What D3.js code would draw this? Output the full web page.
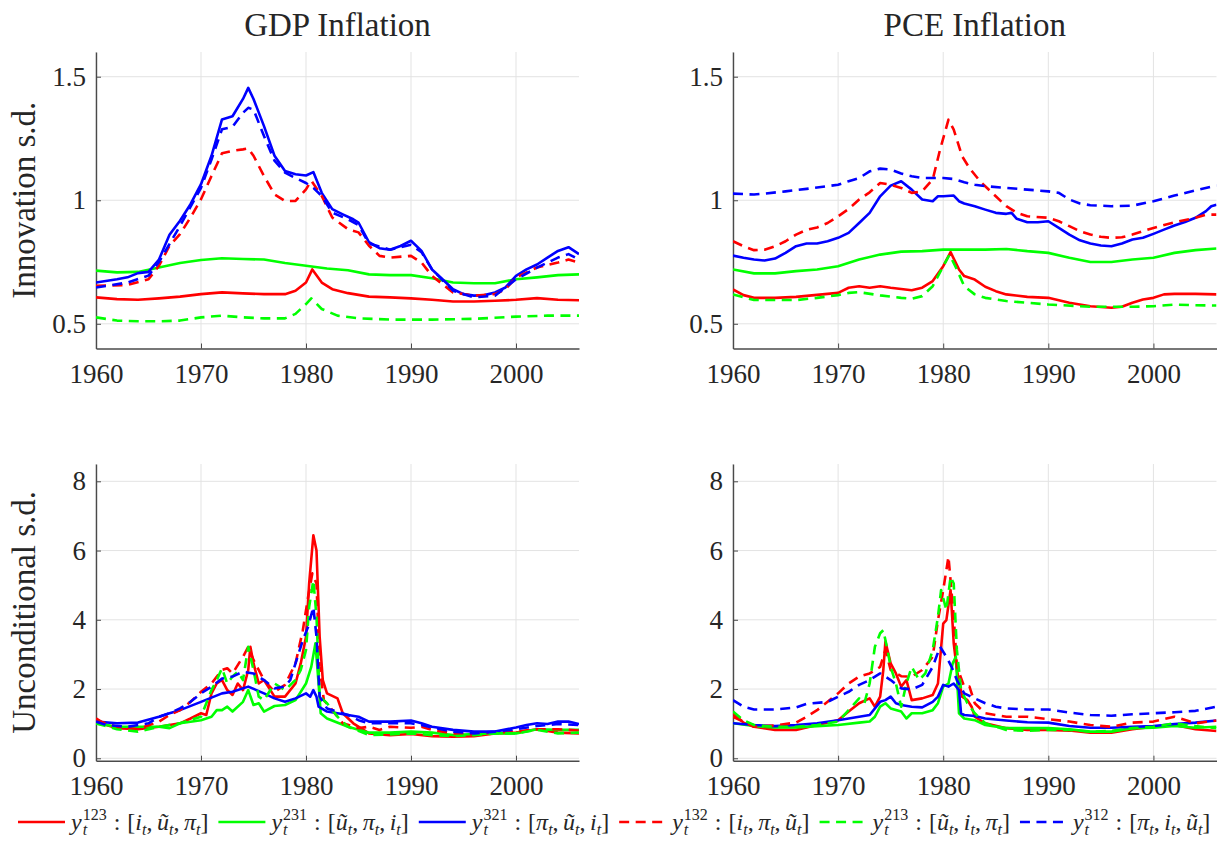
<!DOCTYPE html>
<html>
<head>
<meta charset="utf-8">
<script src="https://cdn.jsdelivr.net/npm/d3@7"></script>
<style>
  body { margin: 0; background: #fff; }
  text { font-family: "Liberation Serif", "DejaVu Serif", serif; fill: #262626; }
</style>
</head>
<body>
<svg id="chart" width="1221" height="843"></svg>
<script>
// ---- data ----
var xTicks = [1960, 1970, 1980, 1990, 2000];
var innovTicks = [0.5, 1, 1.5];
var uncondTicks = [0, 2, 4, 6, 8];
var colTitles = ["GDP Inflation", "PCE Inflation"];
var rowLabels = ["Innovation s.d.", "Unconditional s.d."];
var seriesKeys = ["123", "231", "321", "132", "213", "312"];
var legendVars = [["i", "ũ", "π"], ["ũ", "π", "i"], ["π", "ũ", "i"], ["i", "π", "ũ"], ["ũ", "i", "π"], ["π", "i", "ũ"]];

// GDP, innovation s.d.
var gdpInnov123 = [[1960,0.607],[1962,0.60],[1964,0.597],[1966,0.603],[1968,0.61],[1970,0.62],[1972,0.627],[1974,0.623],[1976,0.62],[1978,0.62],[1979,0.634],[1980,0.667],[1980.6,0.72],[1981.5,0.667],[1982.5,0.64],[1984,0.624],[1986,0.61],[1988,0.607],[1990,0.603],[1992,0.597],[1994,0.59],[1996,0.59],[1998,0.593],[2000,0.597],[2002,0.604],[2004,0.597],[2006,0.595]];
var gdpInnov231 = [[1960,0.715],[1962,0.708],[1964,0.71],[1966,0.728],[1968,0.746],[1970,0.758],[1972,0.765],[1974,0.762],[1976,0.76],[1978,0.746],[1980,0.735],[1982,0.724],[1984,0.717],[1986,0.70],[1988,0.697],[1990,0.697],[1992,0.684],[1994,0.667],[1996,0.664],[1998,0.664],[2000,0.68],[2002,0.688],[2004,0.697],[2006,0.70]];
var gdpInnov321 = [[1960,0.667],[1962,0.68],[1963,0.688],[1964,0.705],[1965,0.71],[1966,0.76],[1967,0.86],[1968,0.917],[1969,0.984],[1970,1.065],[1971,1.18],[1972,1.327],[1973,1.34],[1974,1.41],[1974.5,1.455],[1975,1.41],[1976,1.30],[1977,1.18],[1978,1.118],[1979,1.105],[1980,1.10],[1980.7,1.114],[1981.5,1.03],[1982.5,0.964],[1983.5,0.943],[1984.5,0.923],[1985,0.91],[1986,0.83],[1987,0.806],[1988,0.80],[1989,0.815],[1990,0.836],[1991,0.795],[1992,0.72],[1993,0.68],[1994,0.64],[1995,0.62],[1996,0.614],[1997,0.616],[1998,0.627],[1999,0.647],[2000,0.694],[2001,0.72],[2002,0.74],[2003,0.768],[2004,0.795],[2005,0.81],[2006,0.782]];
var gdpInnov132 = [[1960,0.654],[1963,0.657],[1965,0.68],[1966,0.735],[1967,0.816],[1968,0.863],[1969,0.93],[1970,1.004],[1971,1.098],[1972,1.19],[1973,1.20],[1974,1.206],[1974.5,1.21],[1975,1.18],[1976,1.098],[1977,1.024],[1978,0.997],[1979,0.997],[1980,1.044],[1980.5,1.08],[1981.5,1.017],[1982.5,0.93],[1984,0.883],[1985,0.87],[1986,0.816],[1987,0.775],[1988,0.768],[1990,0.775],[1991,0.748],[1992,0.694],[1994,0.627],[1996,0.614],[1998,0.62],[1999,0.64],[2000,0.687],[2002,0.728],[2004,0.748],[2005,0.76],[2006,0.748]];
var gdpInnov213 = [[1960,0.526],[1962,0.513],[1964,0.51],[1966,0.51],[1968,0.513],[1970,0.526],[1972,0.533],[1974,0.526],[1976,0.522],[1978,0.522],[1979,0.54],[1980,0.58],[1980.5,0.603],[1981.5,0.56],[1983,0.533],[1985,0.522],[1988,0.517],[1992,0.517],[1996,0.52],[2000,0.529],[2003,0.533],[2006,0.533]];
var gdpInnov312 = [[1960,0.647],[1963,0.667],[1965,0.695],[1966,0.75],[1968,0.896],[1970,1.05],[1971,1.165],[1972,1.287],[1973,1.297],[1974,1.354],[1974.5,1.374],[1975,1.367],[1976,1.26],[1977,1.16],[1978,1.112],[1979,1.09],[1980,1.07],[1980.7,1.05],[1981.5,1.017],[1982.5,0.95],[1984,0.923],[1985,0.90],[1986,0.825],[1988,0.80],[1990,0.82],[1991,0.79],[1992,0.72],[1994,0.634],[1996,0.607],[1998,0.614],[2000,0.68],[2002,0.727],[2004,0.768],[2005,0.782],[2006,0.76]];

// PCE, innovation s.d.
var pceInnov123 = [[1960,0.639],[1961,0.616],[1962,0.605],[1964,0.605],[1966,0.609],[1968,0.617],[1970,0.625],[1971,0.646],[1972,0.652],[1973,0.646],[1974,0.652],[1975,0.646],[1976,0.641],[1977,0.636],[1978,0.646],[1979,0.673],[1980,0.733],[1980.7,0.79],[1981.5,0.72],[1982,0.693],[1983,0.679],[1984,0.65],[1985,0.632],[1986,0.619],[1988,0.609],[1990,0.605],[1992,0.585],[1994,0.571],[1996,0.565],[1997,0.569],[1998,0.585],[1999,0.598],[2000,0.605],[2001,0.619],[2002,0.621],[2004,0.621],[2006,0.619]];
var pceInnov231 = [[1960,0.72],[1962,0.704],[1964,0.704],[1966,0.713],[1968,0.72],[1970,0.733],[1972,0.76],[1974,0.78],[1976,0.792],[1978,0.794],[1980,0.80],[1982,0.80],[1984,0.80],[1986,0.803],[1988,0.794],[1990,0.787],[1992,0.767],[1994,0.75],[1996,0.75],[1998,0.76],[2000,0.767],[2002,0.787],[2004,0.798],[2006,0.805]];
var pceInnov321 = [[1960,0.776],[1961,0.767],[1962,0.76],[1963,0.756],[1964,0.764],[1965,0.787],[1966,0.814],[1967,0.825],[1968,0.825],[1969,0.834],[1970,0.848],[1971,0.868],[1972,0.908],[1973,0.949],[1974,1.016],[1975,1.059],[1976,1.077],[1977,1.043],[1978,1.003],[1979,0.996],[1979.5,1.016],[1980,1.016],[1981,1.019],[1981.5,0.996],[1982,0.987],[1983,0.976],[1984,0.962],[1985,0.949],[1986,0.945],[1986.5,0.949],[1987,0.925],[1988,0.911],[1989,0.911],[1990,0.915],[1991,0.888],[1992,0.861],[1993,0.838],[1994,0.825],[1995,0.817],[1996,0.814],[1997,0.825],[1998,0.841],[1999,0.848],[2000,0.864],[2001,0.881],[2002,0.898],[2003,0.912],[2004,0.929],[2005,0.956],[2005.5,0.976],[2006,0.982]];
var pceInnov132 = [[1960,0.834],[1961,0.814],[1962,0.798],[1963,0.80],[1964,0.814],[1965,0.834],[1966,0.861],[1967,0.88],[1968,0.89],[1969,0.908],[1970,0.935],[1971,0.965],[1972,1.003],[1973,1.032],[1974,1.07],[1975,1.063],[1976,1.05],[1977,1.03],[1978,1.036],[1979,1.084],[1979.7,1.205],[1980.5,1.326],[1981,1.286],[1981.8,1.178],[1982.5,1.13],[1983.5,1.077],[1985,1.016],[1986,0.976],[1987,0.949],[1988,0.935],[1990,0.929],[1991,0.915],[1992,0.895],[1993,0.875],[1994,0.861],[1995,0.852],[1996,0.848],[1997,0.85],[1998,0.861],[1999,0.875],[2000,0.888],[2002,0.911],[2004,0.929],[2005,0.942],[2006,0.942]];
var pceInnov213 = [[1960,0.619],[1962,0.596],[1964,0.596],[1966,0.596],[1968,0.605],[1970,0.616],[1971,0.625],[1972,0.628],[1974,0.615],[1976,0.605],[1977,0.601],[1978,0.612],[1979,0.652],[1980,0.733],[1980.6,0.78],[1981.3,0.72],[1982,0.652],[1983,0.619],[1984,0.605],[1986,0.592],[1988,0.585],[1990,0.578],[1994,0.569],[1998,0.569],[2000,0.571],[2002,0.578],[2004,0.575],[2006,0.574]];
var pceInnov312 = [[1960,1.027],[1962,1.023],[1963,1.027],[1965,1.036],[1967,1.046],[1969,1.057],[1970,1.063],[1971,1.077],[1972,1.09],[1973,1.117],[1974,1.128],[1975,1.124],[1976,1.108],[1977,1.097],[1978,1.09],[1980,1.09],[1981,1.086],[1982,1.073],[1983,1.063],[1984,1.057],[1986,1.05],[1988,1.043],[1990,1.036],[1991,1.03],[1992,1.003],[1993,0.987],[1994,0.98],[1996,0.976],[1998,0.978],[2000,0.996],[2001,1.007],[2002,1.019],[2004,1.04],[2006,1.06]];

// GDP, unconditional s.d.
var gdpUncond123 = [[1960,1.15],[1961,0.96],[1962,0.87],[1964,0.84],[1966,0.91],[1968,1.01],[1969,1.15],[1970,1.3],[1970.5,1.25],[1971,1.875],[1971.5,2.16],[1972,2.26],[1972.5,1.97],[1973,1.83],[1973.5,2.16],[1974,1.97],[1974.5,2.55],[1974.7,3.22],[1975,2.74],[1975.5,2.16],[1976,2.26],[1977,1.78],[1978,1.78],[1979,2.16],[1979.5,2.74],[1980,3.51],[1980.3,5.05],[1980.7,6.44],[1981,6.0],[1981.3,3.51],[1981.6,2.26],[1982,1.875],[1983,1.73],[1983.5,1.3],[1984.5,1.01],[1986,0.72],[1988,0.67],[1990,0.70],[1992,0.64],[1994,0.625],[1996,0.64],[1998,0.72],[2000,0.74],[2002,0.84],[2004,0.74],[2006,0.72]];
var gdpUncond231 = [[1960,1.01],[1962,0.91],[1964,0.91],[1966,0.91],[1967,0.87],[1968,1.01],[1970,1.1],[1971,1.2],[1971.5,1.39],[1972,1.39],[1972.5,1.49],[1973,1.35],[1974,1.63],[1974.5,1.97],[1975,1.54],[1975.5,1.59],[1976,1.35],[1977,1.51],[1978,1.54],[1979,1.68],[1980,2.16],[1980.5,2.64],[1980.9,3.32],[1981.2,2.16],[1981.4,1.3],[1982,1.15],[1984,0.91],[1986,0.74],[1988,0.74],[1990,0.77],[1992,0.74],[1994,0.67],[1996,0.70],[1998,0.72],[2000,0.72],[2002,0.84],[2004,0.82],[2006,0.82]];
var gdpUncond321 = [[1960,1.06],[1962,1.01],[1964,1.03],[1966,1.2],[1967,1.3],[1968,1.39],[1970,1.63],[1972,1.875],[1973,1.92],[1974.5,2.07],[1976,1.875],[1977,1.73],[1978,1.63],[1979,1.73],[1980,1.875],[1980.4,1.78],[1980.7,1.97],[1981,1.78],[1981.2,1.49],[1982,1.35],[1984,1.25],[1985,1.2],[1986,1.06],[1988,1.06],[1990,1.09],[1991,1.01],[1992,0.91],[1994,0.82],[1996,0.77],[1998,0.77],[2000,0.89],[2001,0.96],[2002,1.01],[2003,0.99],[2004,1.06],[2005,1.06],[2006,0.99]];
var gdpUncond132 = [[1960,1.1],[1962,0.91],[1964,0.84],[1966,1.06],[1967,1.25],[1968,1.39],[1969,1.63],[1970,1.92],[1971,2.16],[1972,2.55],[1972.5,2.6],[1973,2.45],[1974,2.93],[1974.5,3.22],[1975,2.84],[1976,2.26],[1977,1.92],[1978,2.12],[1979,2.74],[1979.7,3.7],[1980.2,4.66],[1980.6,5.34],[1981,5.05],[1981.3,2.64],[1981.7,1.68],[1982.5,1.39],[1983.5,1.01],[1985,0.87],[1986,0.91],[1987,0.82],[1988,0.91],[1990,0.88],[1991,0.91],[1992,0.82],[1994,0.72],[1996,0.70],[1998,0.74],[2000,0.77],[2002,0.84],[2004,0.84],[2006,0.80]];
var gdpUncond213 = [[1960,1.01],[1962,0.84],[1964,0.77],[1966,0.91],[1968,1.01],[1970,1.2],[1971,1.97],[1971.5,2.26],[1972,2.6],[1972.5,2.16],[1973,2.36],[1973.5,2.5],[1974,2.26],[1974.5,3.22],[1975,2.55],[1975.5,1.78],[1976,1.68],[1977,2.16],[1978,1.97],[1979,2.26],[1979.5,2.55],[1980,3.13],[1980.3,4.37],[1980.7,5.14],[1981,4.09],[1981.3,1.78],[1982,1.59],[1983,1.2],[1984,0.91],[1986,0.67],[1988,0.69],[1990,0.72],[1992,0.67],[1994,0.64],[1996,0.67],[1998,0.72],[2000,0.72],[2002,0.82],[2004,0.72],[2006,0.74]];
var gdpUncond312 = [[1960,1.06],[1961,0.96],[1963,0.91],[1965,1.01],[1966,1.2],[1967,1.3],[1968,1.44],[1969,1.63],[1970,1.875],[1971,2.07],[1972,2.3],[1973,2.36],[1974,2.5],[1975,2.45],[1976,2.26],[1977,2.02],[1978,2.07],[1978.5,2.26],[1979,2.74],[1979.7,3.41],[1980.2,3.8],[1980.7,4.37],[1981,3.51],[1981.3,1.78],[1982,1.44],[1984,1.25],[1985,1.1],[1986,1.01],[1988,1.01],[1990,1.01],[1991,0.96],[1992,0.89],[1994,0.77],[1996,0.72],[1998,0.77],[2000,0.84],[2002,0.93],[2004,0.99],[2006,0.96]];

// PCE, unconditional s.d.
var pceUncond123 = [[1960,1.3],[1961,1.03],[1962,0.91],[1964,0.82],[1966,0.82],[1968,0.96],[1970,1.1],[1971,1.35],[1972,1.59],[1973,1.73],[1973.5,1.49],[1974,1.78],[1974.3,2.55],[1974.5,3.37],[1975,2.74],[1975.5,2.45],[1976,2.07],[1976.5,2.26],[1977,1.68],[1978,1.73],[1979,1.83],[1979.5,2.16],[1980,3.89],[1980.3,3.99],[1980.7,4.86],[1981,3.32],[1981.3,2.55],[1981.8,1.78],[1982.3,1.68],[1982.7,1.49],[1983,1.2],[1984,1.01],[1986,0.87],[1988,0.82],[1990,0.82],[1992,0.80],[1994,0.74],[1996,0.74],[1998,0.84],[2000,0.91],[2002,0.96],[2004,0.84],[2006,0.79]];
var pceUncond231 = [[1960,1.01],[1962,0.93],[1964,0.89],[1966,0.89],[1968,0.93],[1970,0.96],[1972,1.03],[1973,1.06],[1973.5,1.2],[1974,1.49],[1974.5,1.59],[1975,1.44],[1976,1.35],[1976.5,1.15],[1977,1.3],[1978,1.3],[1979,1.39],[1979.5,1.59],[1980,2.07],[1980.5,2.16],[1980.9,2.74],[1981.2,2.93],[1981.5,1.3],[1982,1.15],[1983,1.1],[1984,0.96],[1986,0.87],[1988,0.87],[1990,0.87],[1992,0.84],[1994,0.77],[1996,0.77],[1998,0.87],[2000,0.88],[2002,0.93],[2004,0.88],[2006,0.91]];
var pceUncond321 = [[1960,1.01],[1962,0.96],[1964,0.93],[1966,0.96],[1968,1.01],[1970,1.1],[1972,1.2],[1973,1.25],[1974,1.63],[1974.5,1.68],[1975,1.78],[1975.5,1.59],[1976,1.54],[1977,1.49],[1978,1.47],[1979,1.63],[1979.5,1.78],[1980,2.12],[1980.5,2.07],[1981,2.16],[1981.5,1.97],[1981.7,1.3],[1982,1.25],[1983,1.22],[1984,1.15],[1986,1.09],[1988,1.04],[1990,1.03],[1992,0.93],[1994,0.88],[1996,0.88],[1998,0.91],[2000,0.93],[2002,0.99],[2004,1.03],[2006,1.09]];
var pceUncond132 = [[1960,1.2],[1962,0.91],[1964,0.95],[1966,1.03],[1967,1.2],[1968,1.39],[1969,1.63],[1970,1.875],[1971,2.16],[1972,2.36],[1973,2.45],[1974,2.64],[1974.5,3.13],[1975,2.55],[1976,2.37],[1977,2.36],[1978,2.55],[1979,2.93],[1979.5,3.99],[1980,4.86],[1980.5,5.82],[1981,4.09],[1981.3,2.64],[1982,2.07],[1982.5,2.07],[1983,1.59],[1984,1.3],[1986,1.2],[1988,1.2],[1990,1.13],[1992,1.06],[1994,0.96],[1996,0.91],[1998,1.03],[2000,1.06],[2002,1.2],[2004,1.01],[2006,1.09]];
var pceUncond213 = [[1960,1.35],[1961,1.1],[1962,0.96],[1964,0.91],[1966,0.91],[1968,0.96],[1970,1.06],[1971,1.39],[1972,1.73],[1972.5,1.59],[1973,2.16],[1973.5,3.22],[1974,3.61],[1974.3,3.7],[1974.7,3.13],[1975,2.64],[1975.5,2.16],[1976,1.49],[1976.5,2.16],[1977,2.64],[1977.7,2.26],[1978.3,2.45],[1979,3.13],[1979.5,4.09],[1979.8,4.86],[1980.3,4.28],[1980.7,5.24],[1981,5.05],[1981.3,3.13],[1981.7,1.97],[1982.3,1.59],[1983,1.3],[1984,1.01],[1986,0.82],[1988,0.79],[1990,0.82],[1992,0.82],[1994,0.77],[1996,0.79],[1998,0.87],[2000,0.91],[2002,1.01],[2004,0.93],[2006,0.87]];
var pceUncond312 = [[1960,1.68],[1961,1.49],[1962,1.41],[1964,1.41],[1966,1.47],[1967,1.57],[1969,1.63],[1970,1.78],[1971,1.92],[1972,2.12],[1973,2.26],[1974,2.45],[1975,2.26],[1976,2.02],[1977,1.99],[1978,2.12],[1979,2.64],[1979.7,3.22],[1980.3,2.93],[1980.8,2.64],[1981.3,2.26],[1982,1.875],[1983,1.73],[1984,1.59],[1985,1.49],[1986,1.44],[1988,1.41],[1990,1.41],[1992,1.32],[1994,1.25],[1996,1.23],[1998,1.27],[2000,1.3],[2002,1.33],[2004,1.37],[2006,1.49]];

var panels = [
  { row: 0, col: 0, domain: [0.4, 1.6], ticks: innovTicks, series: [gdpInnov123, gdpInnov231, gdpInnov321, gdpInnov132, gdpInnov213, gdpInnov312] },
  { row: 0, col: 1, domain: [0.4, 1.6], ticks: innovTicks, series: [pceInnov123, pceInnov231, pceInnov321, pceInnov132, pceInnov213, pceInnov312] },
  { row: 1, col: 0, domain: [-0.07, 8.5], ticks: uncondTicks, series: [gdpUncond123, gdpUncond231, gdpUncond321, gdpUncond132, gdpUncond213, gdpUncond312] },
  { row: 1, col: 1, domain: [-0.07, 8.5], ticks: uncondTicks, series: [pceUncond123, pceUncond231, pceUncond321, pceUncond132, pceUncond213, pceUncond312] }
];

// ---- layout ----
var colX = [[96, 579], [733, 1216.5]];
var rowY = [[52, 348.5], [464, 760.7]];
var color = d3.scaleOrdinal().domain(seriesKeys).range(["#ff0000", "#00ff00", "#0000ff", "#ff0000", "#00ff00", "#0000ff"]);
var dashed = function(k) { return seriesKeys.indexOf(k) >= 3; };

var svg = d3.select("#chart");
var fmt = function(d) { return String(d); };

panels.forEach(function(p, pi) {
  var x = d3.scaleLinear().domain([1960, 2006]).range(colX[p.col]);
  var y = d3.scaleLinear().domain(p.domain).range([rowY[p.row][1], rowY[p.row][0]]);
  var g = svg.append("g");

  // grid
  g.selectAll(".vg").data(xTicks).enter().append("line")
    .attr("x1", function(d){ return x(d); }).attr("x2", function(d){ return x(d); })
    .attr("y1", y.range()[0]).attr("y2", y.range()[1])
    .attr("stroke", "#e3e3e3").attr("stroke-width", 1);
  g.selectAll(".hg").data(p.ticks).enter().append("line")
    .attr("x1", x.range()[0]).attr("x2", x.range()[1])
    .attr("y1", function(d){ return y(d); }).attr("y2", function(d){ return y(d); })
    .attr("stroke", "#e3e3e3").attr("stroke-width", 1);

  // axes (MATLAB-like, ticks inside)
  var xa = d3.axisBottom(x).tickValues(xTicks).tickFormat(fmt).tickSizeInner(-5).tickSizeOuter(0).tickPadding(14);
  var ya = d3.axisLeft(y).tickValues(p.ticks).tickFormat(fmt).tickSizeInner(-5).tickSizeOuter(0).tickPadding(10);
  var gx = g.append("g").attr("transform", "translate(0," + y.range()[0] + ")").call(xa);
  var gy = g.append("g").attr("transform", "translate(" + x.range()[0] + ",0)").call(ya);
  [gx, gy].forEach(function(a) {
    a.attr("font-family", null);
    a.select(".domain").attr("stroke", "#4a4a4a").attr("stroke-width", 1.4);
    a.selectAll(".tick line").attr("stroke", "#4a4a4a").attr("stroke-width", 1);
    a.selectAll(".tick text").style("font-family", "'Liberation Serif', serif").style("font-size", "27px").attr("fill", "#262626");
  });
  gx.selectAll(".tick text").attr("dy", "0.75em");

  // clip
  var cid = "clip" + pi;
  svg.append("clipPath").attr("id", cid).append("rect")
    .attr("x", x.range()[0]).attr("y", y.range()[1])
    .attr("width", x.range()[1] - x.range()[0]).attr("height", y.range()[0] - y.range()[1]);

  var line = d3.line().x(function(d){ return x(d[0]); }).y(function(d){ return y(d[1]); });
  var lg = g.append("g").attr("clip-path", "url(#" + cid + ")");
  p.series.forEach(function(s, i) {
    var k = seriesKeys[i];
    lg.append("path").datum(s).attr("d", line)
      .attr("fill", "none").attr("stroke", color(k)).attr("stroke-width", 2.6)
      .attr("stroke-linejoin", "round")
      .attr("stroke-dasharray", dashed(k) ? "10,6.5" : null);
  });

  if (p.row === 0) {
    svg.append("text").attr("x", (x.range()[0] + x.range()[1]) / 2).attr("y", 36)
      .attr("text-anchor", "middle").style("font-size", "33px").text(colTitles[p.col]);
  }
  if (p.col === 0) {
    var cy = (y.range()[0] + y.range()[1]) / 2;
    svg.append("text").attr("transform", "translate(35," + cy + ") rotate(-90)")
      .attr("text-anchor", "middle").style("font-size", "33px").text(rowLabels[p.row]);
  }
});

// ---- legend ----
var legY = 822;
var lx = 18;
function piece(g, x, yb, str, size, italic) {
  var t = g.append("text").attr("x", x).attr("y", yb).style("font-size", size + "px")
    .style("font-style", italic ? "italic" : "normal").text(str);
  return t.node().getComputedTextLength();
}
seriesKeys.forEach(function(k, i) {
  var g = svg.append("g");
  g.append("line").attr("x1", lx).attr("x2", lx + 47).attr("y1", legY).attr("y2", legY)
    .attr("stroke", color(k)).attr("stroke-width", 2.6)
    .attr("stroke-dasharray", dashed(k) ? "10,6.5" : null);
  var cx = lx + 53, base = legY + 8, fs = 24, ss = 16;
  cx += piece(g, cx, base, "y", fs, true) + 1;
  var w1 = piece(g, cx, base - 10, k, ss, false);
  var w2 = piece(g, cx, base + 5, "t", ss, true);
  cx += Math.max(w1, w2) + 7;
  cx += piece(g, cx, base, ":", fs, false) + 7;
  cx += piece(g, cx, base, "[", fs, false);
  legendVars[i].forEach(function(v, j) {
    cx += piece(g, cx, base, v, fs, true);
    cx += piece(g, cx, base + 5, "t", ss, true);
    if (j < 2) cx += piece(g, cx, base, ",", fs, false) + 4.5;
  });
  cx += piece(g, cx, base, "]", fs, false);
  lx = cx + 10;
});
</script>
</body>
</html>
